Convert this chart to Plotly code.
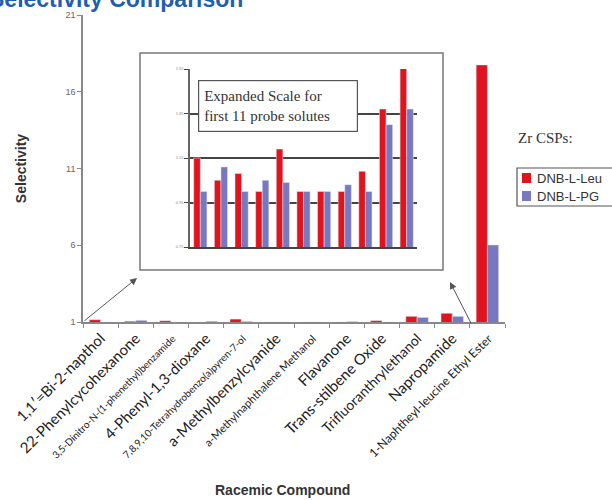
''' Selectivity Comparison - Zr CSPs '''
import plotly.graph_objects as go

compounds = [
    "1,1′=Bi-2-napthol",
    "22-Phenylcycohexanone",
    "3,5-Dinitro-N-(1-phenethyl)benzamide",
    "4-Phenyl-1,3-dioxane",
    "7,8,9,10-Tetrahydrobenzo(a)pyren-7-ol",
    "a-Methylbenzylcyanide",
    "a-Methylnaphthalene Methanol",
    "Flavanone",
    "Trans-stilbene Oxide",
    "Trifluoranthrylethanol",
    "Napropamide",
    "1-Naphtheyl-leucine Ethyl Ester",
]
label_sizes = [15, 15, 10, 15, 10, 15, 11, 15, 15, 14, 15, 12]

leu_values = [1.15, 1.05, 1.08, 1.00, 1.19, 1.00, 1.00, 1.00, 1.09, 1.37, 1.57, 17.75]
pg_values = [1.00, 1.11, 1.00, 1.05, 1.04, 1.00, 1.00, 1.03, 1.00, 1.30, 1.37, 6.02]

main_ticks = [1, 6, 11, 16, 21]
inset_ticks = [0.75, 0.95, 1.15, 1.35, 1.55]
n_inset = 11

RED = '#e0141e'
PURPLE = '#7878c0'

# page geometry in pixels (body margin removed in post_script)
W, H = 612, 500
L, T = 83, 15
R, B = W - 505, H - 322
PW, PH = W - L - R, H - T - B


def px(x):
    return (x - L) / PW


def py(y):
    return (H - B - y) / PH


ticktext = [
    f"<span style='font-size:{s}px'>{c}</span>" for c, s in zip(compounds, label_sizes)
]

fig = go.Figure()

fig.add_trace(go.Bar(x=compounds, y=leu_values, marker_color=RED, name='DNB-L-Leu',
                     xaxis='x', yaxis='y', showlegend=False))
fig.add_trace(go.Bar(x=compounds, y=pg_values, marker_color=PURPLE, name='DNB-L-PG',
                     xaxis='x', yaxis='y', showlegend=False))

# inset (expanded scale)
fig.add_trace(go.Bar(x=compounds[:n_inset], y=leu_values[:n_inset], marker_color=RED,
                     xaxis='x2', yaxis='y2', showlegend=False))
fig.add_trace(go.Bar(x=compounds[:n_inset], y=pg_values[:n_inset], marker_color=PURPLE,
                     xaxis='x2', yaxis='y2', showlegend=False))

fig.update_layout(
    width=W, height=H,
    margin=dict(l=L, r=R, t=T, b=B, autoexpand=False),
    plot_bgcolor='white', paper_bgcolor='white',
    barmode='group', bargap=0.36, bargroupgap=0,
    font=dict(family='Arial, Liberation Sans', color='#333'),
    xaxis=dict(
        domain=[0, 1], tickmode='array', tickvals=compounds, ticktext=ticktext,
        tickangle=-45, tickson='boundaries', ticks='outside', ticklen=4,
        tickcolor='#888', showline=True, linecolor='#888', linewidth=1.5,
        tickfont=dict(family='Lato', size=15, color='#222'),
        showgrid=False,
    ),
    yaxis=dict(
        range=[1, 21], tickvals=main_ticks, ticks='outside', ticklen=4,
        tickcolor='#888', showline=True, linecolor='#888', linewidth=1.5,
        tickfont=dict(size=9, color='#666'), showgrid=False, zeroline=False,
        title=dict(text='<b>Selectivity</b>', font=dict(size=14, color='#333'),
                   standoff=36),
    ),
    xaxis2=dict(
        domain=[px(190), px(417)], anchor='y2', showticklabels=False,
        showline=True, linecolor='#444', linewidth=1.5, ticks='', showgrid=False,
    ),
    yaxis2=dict(
        domain=[py(247), py(69)], anchor='x2', range=[0.75, 1.55],
        tickvals=inset_ticks, tickformat='.2f', ticks='outside', ticklen=4,
        tickcolor='#444', showline=True, linecolor='#666', linewidth=1.5,
        tickfont=dict(size=4, color='#888'), showgrid=True, gridcolor='#444',
        gridwidth=1.5, zeroline=False,
    ),
)

# x axis title
fig.add_annotation(
    xref='paper', yref='paper', x=px(282), y=py(490), xanchor='center', yanchor='middle',
    text='<b>Racemic Compound</b>', showarrow=False,
    font=dict(size=14, color='#333'),
)

# inset frame
fig.add_shape(type='rect', xref='paper', yref='paper',
              x0=px(140), x1=px(443), y0=py(270), y1=py(53),
              line=dict(color='#777', width=1.5), fillcolor='white', layer='below')

# inset caption box
fig.add_annotation(
    xref='paper', yref='paper', x=px(198), y=py(80), xanchor='left', yanchor='top',
    text='Expanded Scale for<br>first 11 probe solutes', align='left', showarrow=False,
    width=148, height=40,
    font=dict(family='Liberation Serif', size=15, color='#333'),
    bgcolor='white', bordercolor='#555', borderwidth=1.2, borderpad=5,
)

# arrows to/from inset
arrow_style = dict(xref='paper', yref='paper', axref='pixel', ayref='pixel',
                   showarrow=True, arrowhead=2, arrowsize=1.4, arrowwidth=1,
                   arrowcolor='#555', text='')
fig.add_annotation(x=px(137), y=py(278), ax=-54, ay=44, **arrow_style)
fig.add_annotation(x=px(450), y=py(282), ax=22, ay=43, **arrow_style)

# title (cut at top of page)
fig.add_annotation(
    xref='paper', yref='paper', x=px(245), y=py(-1), xanchor='right', yanchor='middle',
    text='<b>Selectivity Comparison</b>', showarrow=False,
    font=dict(family='Arial', size=23, color='#1f5fae'),
)

# legend
fig.add_annotation(
    xref='paper', yref='paper', x=px(516), y=py(138), xanchor='left', yanchor='middle',
    text='Zr CSPs:', showarrow=False,
    font=dict(family='Liberation Serif', size=15, color='#333'),
)
fig.add_shape(type='rect', xref='paper', yref='paper',
              x0=px(517), x1=px(640), y0=py(206), y1=py(168),
              line=dict(color='#555', width=1.2))
for name, color, yc in [('DNB-L-Leu', RED, 178), ('DNB-L-PG', PURPLE, 196)]:
    fig.add_shape(type='rect', xref='paper', yref='paper',
                  x0=px(522), x1=px(531), y0=py(yc + 5), y1=py(yc - 5),
                  line=dict(width=0), fillcolor=color)
    fig.add_annotation(
        xref='paper', yref='paper', x=px(535), y=py(yc), xanchor='left', yanchor='middle',
        text=name, showarrow=False, font=dict(family='Arial', size=13, color='#333'),
    )

fig.write_html("out.html", config={'displayModeBar': False},
               post_script="document.body.style.margin='0';")
